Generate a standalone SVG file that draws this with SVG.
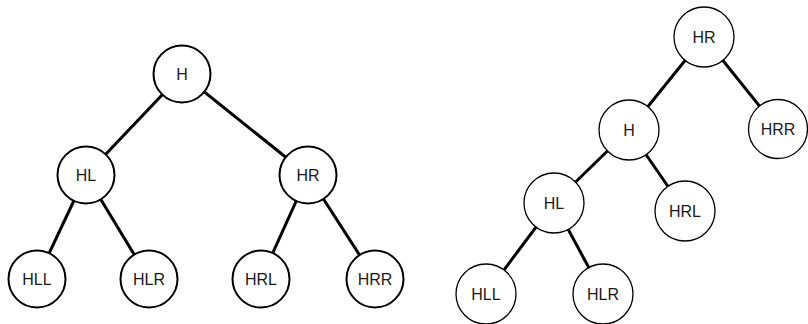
<svg xmlns="http://www.w3.org/2000/svg" width="808" height="324" viewBox="0 0 808 324">
<style>
.e{stroke:#000;stroke-width:3;fill:none}
.a circle{fill:#fff;stroke:#000;stroke-width:2}
.b circle{fill:#fff;stroke:#000;stroke-width:1.3}
text{font-family:"Liberation Sans",Arial,sans-serif;font-size:16px;fill:#1a1a1a;text-anchor:middle}
</style>
<rect width="808" height="324" fill="#fff"/>
<g id="connectors">
<line class="e" x1="182" y1="74" x2="86" y2="175"/>
<line class="e" x1="182" y1="74" x2="308" y2="175"/>
<line class="e" x1="86" y1="175" x2="37" y2="279"/>
<line class="e" x1="86" y1="175" x2="149" y2="279"/>
<line class="e" x1="308" y1="175" x2="261" y2="279"/>
<line class="e" x1="308" y1="175" x2="375" y2="279"/>
<line class="e" x1="704" y1="37" x2="629" y2="130"/>
<line class="e" x1="704" y1="37" x2="778" y2="129"/>
<line class="e" x1="629" y1="130" x2="554" y2="203"/>
<line class="e" x1="629" y1="130" x2="685" y2="211"/>
<line class="e" x1="554" y1="203" x2="486" y2="294"/>
<line class="e" x1="554" y1="203" x2="603" y2="294"/>
</g>
<g class="a">
<g id="L_H"><circle cx="182" cy="74" r="28.5"/><text x="182" y="80">H</text></g>
<g id="L_HL"><circle cx="86" cy="175" r="28.5"/><text x="86" y="181">HL</text></g>
<g id="L_HR"><circle cx="308" cy="175" r="28.5"/><text x="308" y="181">HR</text></g>
<g id="L_HLL"><circle cx="37" cy="279" r="28.5"/><text x="37" y="285">HLL</text></g>
<g id="L_HLR"><circle cx="149" cy="279" r="28.5"/><text x="149" y="285">HLR</text></g>
<g id="L_HRL"><circle cx="261" cy="279" r="28.5"/><text x="261" y="285">HRL</text></g>
<g id="L_HRR"><circle cx="375" cy="279" r="28.5"/><text x="375" y="285">HRR</text></g>
</g>
<g class="b">
<g id="R_HR"><circle cx="704" cy="37" r="30"/><text x="704" y="43">HR</text></g>
<g id="R_H"><circle cx="629" cy="130" r="30"/><text x="629" y="136">H</text></g>
<g id="R_HRR"><circle cx="778" cy="129" r="29.5"/><text x="778" y="135">HRR</text></g>
<g id="R_HL"><circle cx="554" cy="203" r="30"/><text x="554" y="209">HL</text></g>
<g id="R_HRL"><circle cx="685" cy="211" r="30"/><text x="685" y="217">HRL</text></g>
<g id="R_HLL"><circle cx="486" cy="294" r="30"/><text x="486" y="300">HLL</text></g>
<g id="R_HLR"><circle cx="603" cy="294" r="30"/><text x="603" y="300">HLR</text></g>
</g>
</svg>
